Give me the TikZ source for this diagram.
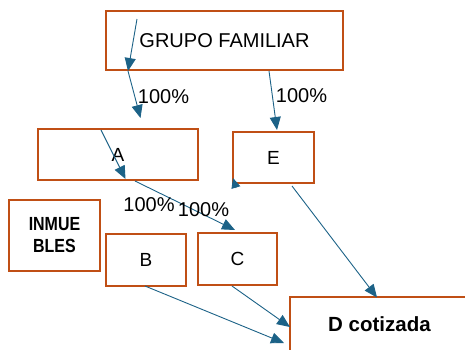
\documentclass[tikz,border=0pt]{standalone}
\usepackage{fontspec}
\setmainfont{Liberation Sans}
\usetikzlibrary{arrows.meta}
\definecolor{boxc}{RGB}{192,79,21}
\definecolor{arrc}{RGB}{28,98,135}
\tikzset{
  bx/.style={draw=boxc, line width=1.7pt, fill=white, inner sep=0pt, outer sep=0pt},
  conn/.style={draw=arrc, line width=0.9pt, -{Triangle[length=13pt,width=11pt]}},
  lbl/.style={font=\fontsize{20}{24}\selectfont, inner sep=0pt},
}
\begin{document}
\begin{tikzpicture}[x=1pt,y=-1pt]
\useasboundingbox (0,0) rectangle (465,349);
% boxes
\node[bx, minimum width=237pt, minimum height=59pt, font=\fontsize{20}{24}\selectfont] (g) at (224.5,40.5) {GRUPO FAMILIAR};
\node[bx, minimum width=160pt, minimum height=51pt, font=\fontsize{19}{23}\selectfont] (a) at (118,154.5) {A};
\node[bx, minimum width=81pt, minimum height=51pt, font=\fontsize{19}{23}\selectfont] (e) at (273.5,157.5) {E};
\node[bx, minimum width=91pt, minimum height=71pt, font=\bfseries\fontsize{19}{22}\selectfont, align=center] (i) at (54.5,235.5) {\scalebox{0.84}[1]{INMUE}\\\scalebox{0.84}[1]{BLES}};
\node[bx, minimum width=80pt, minimum height=52pt, font=\fontsize{19}{23}\selectfont] (b) at (146,260) {B};
\node[bx, minimum width=79pt, minimum height=52pt, font=\fontsize{19}{23}\selectfont] (c) at (237.5,259) {C};
\node[bx, minimum width=179pt, minimum height=54pt, font=\bfseries\fontsize{20.5}{24}\selectfont] (d) at (379.5,324) {D cotizada};
% connector end points
\coordinate (p1) at (137,19);
\coordinate (p2) at (128,71);
\coordinate (p3) at (140.5,118);
\coordinate (p4) at (269,71);
\coordinate (p5) at (277,130);
\coordinate (p6) at (101,130);
\coordinate (p7) at (125.5,179);
\coordinate (p8) at (135,181);
\coordinate (p9) at (235,230);
\coordinate (p10) at (236,188);
\coordinate (p11) at (233,178);
\coordinate (p12) at (292,186);
\coordinate (p13) at (377,297.5);
\coordinate (p14) at (145,286);
\coordinate (p15) at (284,343);
\coordinate (p16) at (232,286);
\coordinate (p17) at (290,327);
% connectors
\draw[conn] (p1) -- (p2);
\draw[conn] (p2) -- (p3);
\draw[conn] (p4) -- (p5);
\draw[conn] (p6) -- (p7);
\draw[conn] (p8) -- (p9);
\draw[conn, -{Triangle[length=10pt,width=9pt]}] (p10) -- (p11);
\draw[conn] (p12) -- (p13);
\draw[conn] (p14) -- (p15);
\draw[conn] (p16) -- (p17);
% labels
\node[lbl] (l1) at (163.5,97) {100\%};
\node[lbl] (l2) at (301.5,96) {100\%};
\node[lbl] (l3) at (149,205) {100\%};
\node[lbl] (l4) at (203.5,210) {100\%};
\end{tikzpicture}
\end{document}
